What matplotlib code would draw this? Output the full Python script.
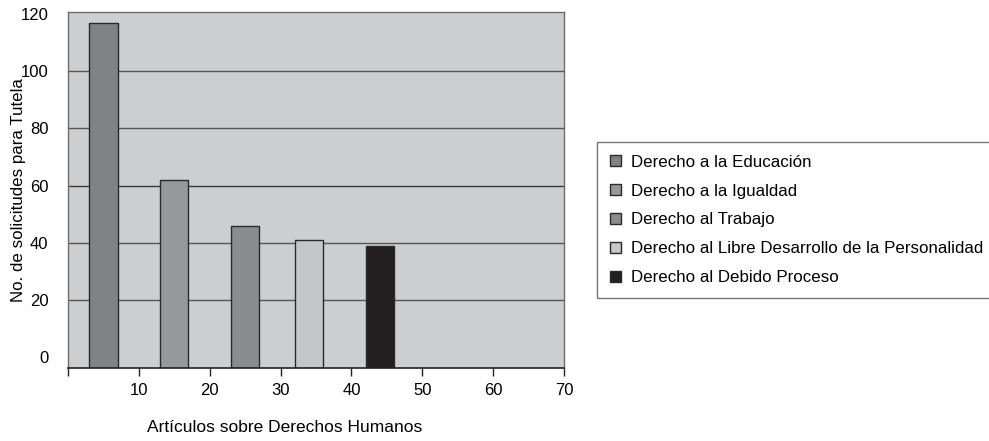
import matplotlib
matplotlib.use('Agg')
import matplotlib.pyplot as plt
import numpy as np

plt.rcParams['font.family'] = ['Liberation Sans', 'DejaVu Sans']

# data
articles = [5, 15, 25, 34, 44]
counts = [117, 62, 46, 41, 39]
labels = ['Derecho a la Educación', 'Derecho a la Igualdad', 'Derecho al Trabajo',
          'Derecho al Libre Desarrollo de la Personalidad', 'Derecho al Debido Proceso']
colors = ['#818285', '#97989b', '#8a8b8e', '#c5c6c8', '#231f20']
x_ticks = [0, 10, 20, 30, 40, 50, 60, 70]
x_ticklabels = ['', '10', '20', '30', '40', '50', '60', '70']
y_ticks = [0, 20, 40, 60, 80, 100, 120]

y0, y1 = -3.8, 120.7

f = plt.figure(figsize=(9.89, 4.41), dpi=100)
ax = f.add_axes([68 / 989, 1 - 368 / 441, 496 / 989, 356 / 441])
ax.set_facecolor('#cdced0')

for yv in y_ticks[1:-1]:
    ax.axhline(yv, color='#3a3a3a' if yv == 60 else '#555555', lw=1, zorder=1)

vals = np.array(counts, dtype=float)
bars = ax.bar(articles, vals - y0, bottom=y0, width=4, color=colors,
              edgecolor='#2a2a2a', linewidth=1, zorder=2)

ax.set_xlim(0, 70)
ax.set_ylim(y0, y1)
ax.set_xticks(x_ticks)
ax.set_xticklabels(x_ticklabels, fontsize=12)
ax.set_yticks(y_ticks)
ax.set_yticklabels([str(v) for v in y_ticks], fontsize=12)
ax.tick_params(axis='x', direction='out', length=6, width=1, color='#222222', pad=5)
ax.tick_params(axis='y', length=0, pad=14)

for s in ['left', 'top', 'right']:
    ax.spines[s].set_color('#6d6d6d')
    ax.spines[s].set_linewidth(1)
ax.spines['bottom'].set_color('#222222')
ax.spines['bottom'].set_linewidth(1.2)

ax.set_ylabel('No. de solicitudes para Tutela', fontsize=12.2, va='center')
ax.yaxis.set_label_coords(-50 / 496, 0.5)
ax.set_xlabel('Artículos sobre Derechos Humanos', fontsize=12.5, va='center')
ax.xaxis.set_label_coords(217 / 496, -60 / 356)

leg = f.legend(bars, labels, loc='upper left', bbox_to_anchor=(597 / 989, 1 - 142 / 441),
               fontsize=12.2, frameon=True, fancybox=False, handlelength=0.65,
               handleheight=0.65, handletextpad=0.6, labelspacing=0.82,
               borderpad=0.75, borderaxespad=0)
leg.get_frame().set_edgecolor('#555555')
leg.get_frame().set_linewidth(1)

f.savefig('out.png', dpi=100)
